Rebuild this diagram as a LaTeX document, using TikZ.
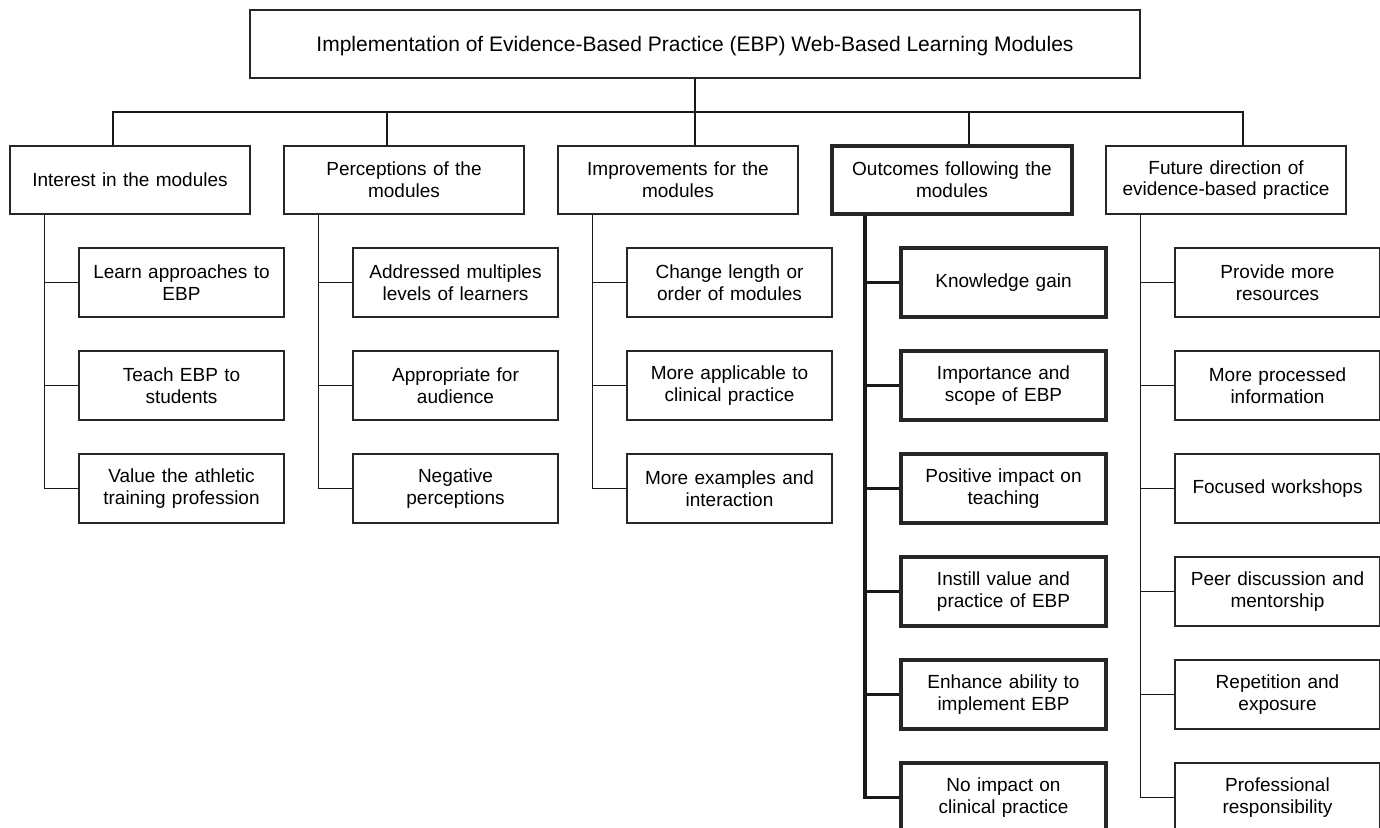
\documentclass[tikz,border=0pt]{standalone}
\usepackage{fontspec}
\setmainfont{Liberation Sans}
\usetikzlibrary{positioning}

\begin{document}
\begin{tikzpicture}[x=1pt,y=-1pt]
		\tikzstyle{every node}=[font=\fontsize{19}{21.7}\selectfont]
		\tikzstyle{box}=[draw=black!85, line width=1.3pt, align=center, inner sep=0pt]
		\tikzstyle{head}=[box, minimum width=240pt, minimum height=68pt, text width=236pt]
		\tikzstyle{item}=[box, minimum width=205pt, minimum height=69pt, text width=200pt]
		\tikzstyle{bold}=[line width=3.8pt]
		\tikzstyle{link}=[draw=black!90, line width=1.4pt]
		\useasboundingbox (0,0) rectangle (1380,827);
		% title and the five themes
		\node [box, minimum width=890pt, minimum height=68pt, font=\fontsize{21}{24}\selectfont, text height=15pt, text depth=0pt] (top) at (695,44) {Implementation of Evidence-Based Practice (EBP) Web-Based Learning Modules};
		\node [head] (int) at (130,180) {Interest in the modules};
		\node [head] (per) at (404,180) {Perceptions of the\\modules};
		\node [head] (imp) at (678,180) {Improvements for the\\modules};
		\node [head, bold] (out) at (952,180) {Outcomes following the\\modules};
		\node [head] (fut) at (1226,180) {Future direction of\\evidence-based practice};
		% subthemes
		\node [item] (int1) at (181.5,282.5) {Learn approaches to\\EBP};
		\node [item] (int2) at (181.5,385.5) {Teach EBP to\\students};
		\node [item] (int3) at (181.5,488.5) {Value the athletic\\training profession};
		\node [item] (per1) at (455.5,282.5) {Addressed multiples\\levels of learners};
		\node [item] (per2) at (455.5,385.5) {Appropriate for\\audience};
		\node [item] (per3) at (455.5,488.5) {Negative\\perceptions};
		\node [item] (imp1) at (729.5,282.5) {Change length or\\order of modules};
		\node [item] (imp2) at (729.5,385.5) {More applicable to\\clinical practice};
		\node [item] (imp3) at (729.5,488.5) {More examples and\\interaction};
		\node [item, bold] (out1) at (1003.5,282.5) {Knowledge gain};
		\node [item, bold] (out2) at (1003.5,385.5) {Importance and\\scope of EBP};
		\node [item, bold] (out3) at (1003.5,488.5) {Positive impact on\\teaching};
		\node [item, bold] (out4) at (1003.5,591.5) {Instill value and\\practice of EBP};
		\node [item, bold] (out5) at (1003.5,694.5) {Enhance ability to\\implement EBP};
		\node [item, bold] (out6) at (1003.5,797.5) {No impact on\\clinical practice};
		\node [item] (fut1) at (1277.5,282.5) {Provide more\\resources};
		\node [item] (fut2) at (1277.5,385.5) {More processed\\information};
		\node [item] (fut3) at (1277.5,488.5) {Focused workshops};
		\node [item] (fut4) at (1277.5,591.5) {Peer discussion and\\mentorship};
		\node [item] (fut5) at (1277.5,694.5) {Repetition and\\exposure};
		\node [item] (fut6) at (1277.5,797.5) {Professional\\responsibility};
		% bus from the title
		\coordinate (bus) at (0,112);
		\draw [link] (top.south) -- (top.south |- bus);
		\draw [link] ([xshift=-17pt]int.north) |- ([xshift=17pt]fut.north |- bus) -- ([xshift=17pt]fut.north);
		\draw [link] ([xshift=-17pt]per.north) -- ([xshift=-17pt]per.north |- bus);
		\draw [link] ([xshift=17pt]imp.north) -- ([xshift=17pt]imp.north |- bus);
		\draw [link] ([xshift=17pt]out.north) -- ([xshift=17pt]out.north |- bus);
		% trunks and branches
		\foreach \g/\n/\w in {int/3/1.4pt, per/3/1.4pt, imp/3/1.4pt, out/6/3.8pt, fut/6/1.4pt}{
			\draw [link, line width=\w] ([xshift=35pt]\g.south west) |- (\g\n.west);
			\foreach \i in {1,...,\n}
				\draw [link, line width=\w] (\g\i.west) -- ([xshift=-34pt]\g\i.west);
		}
	\end{tikzpicture}
\end{document}
